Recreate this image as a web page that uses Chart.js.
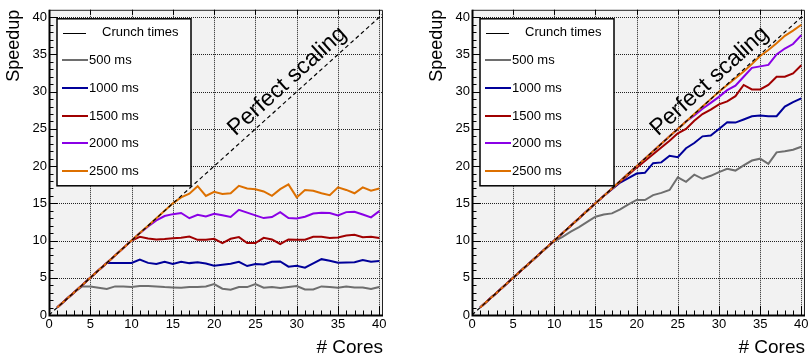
<!DOCTYPE html>
<html>
<head>
<meta charset="utf-8">
<script src="https://cdn.jsdelivr.net/npm/chart.js@4.4.1/dist/chart.umd.min.js"></script>
<style>
html, body { margin: 0; padding: 0; background: #fff; }
#wrap { position: relative; width: 811px; height: 359px; }
#leftChart { position: absolute; left: 0; top: 0; }
#rightChart { position: absolute; left: 405px; top: 0; }
</style>
</head>
<body>
<div id="wrap">
<canvas id="leftChart" width="405" height="359"></canvas>
<canvas id="rightChart" width="406" height="359"></canvas>
</div>
<script>
var cores = [1,2,3,4,5,6,7,8,9,10,11,12,13,14,15,16,17,18,19,20,21,22,23,24,25,26,27,28,29,30,31,32,33,34,35,36,37,38,39,40];
var perfectX = [0, 41];
var perfectY = [0, 41];
var tickValues = [0,5,10,15,20,25,30,35,40];
var seriesLabels = ["500 ms", "1000 ms", "1500 ms", "2000 ms", "2500 ms"];
var seriesColors = ["#6e6e6e", "#000099", "#a00000", "#8a00e6", "#dd7000"];
var legendHeader = "Crunch times";
var perfectLabel = "Perfect scaling";

/* left panel */
var left500 = [1,2,3,3.84,3.84,3.66,3.49,3.84,3.84,3.75,3.88,3.88,3.84,3.75,3.7,3.66,3.75,3.75,3.84,4.15,3.53,3.4,3.75,3.75,4.15,3.66,3.75,3.62,3.75,3.88,3.44,3.44,3.84,3.75,3.66,3.84,3.7,3.7,3.49,3.75];
var left1000 = [1,2,3,4,5,6,7,7,7,7,7.46,7,6.84,7.15,6.84,7.15,6.97,7.1,6.93,6.62,6.75,6.88,7.15,6.58,6.84,6.8,7.15,7.2,6.49,6.62,6.36,6.93,7.5,7.28,7.02,7.06,7.1,7.37,7.15,7.24];
var left1500 = [1,2,3,4,5,6,7,8,9,10,10.5,10.29,10.15,10.2,10.3,10.37,10.55,10.1,10.11,10.24,9.67,10.24,10.46,9.67,9.67,10.37,10.15,9.54,10.15,10.11,10.11,10.5,10.5,10.33,10.42,10.68,10.77,10.46,10.5,10.33];
var left2000 = [1,2,3,4,5,6,7,8,9,10,11,11.9,12.7,13.3,13.55,13.7,13,13.46,13.25,13.6,13.4,13.16,14.13,13.75,13.38,13.02,13.16,13.82,13.02,12.98,13.2,13.64,13.73,13.7,13.38,13.82,13.86,13.5,13.11,13.95];
var left2500 = [1,2,3,4,5,6,7,8,9,10,11,12,13,14,15,15.8,16.3,17.3,16,16.55,16.25,16.35,17.35,17,16.9,16.6,16,16.9,17.55,15.8,16.8,16.7,16.35,16.1,17.15,16.8,16.35,17.15,16.7,17];

/* right panel */
var right500 = [1,2,3,4,5,6,7,8,9,9.9,10.5,11.2,11.8,12.5,13.2,13.5,13.65,14.2,14.85,15.45,15.45,16.1,16.4,16.8,18.5,17.9,18.85,18.3,18.7,19.2,19.65,19.4,20.1,20.75,21,20.3,21.85,22,22.2,22.6];
var right1000 = [1,2,3,4,5,6,7,8,9,10,11,12,13,14,15,16,16.9,17.8,18.4,19,19.1,20.4,20.5,21.4,21.2,22.4,23.1,24,24.1,25,25.9,25.85,26.27,26.7,26.8,26.7,26.7,28,28.6,29.1];
var right1500 = [1,2,3,4,5,6,7,8,9,10,11,12,13,14,15,16,16.95,17.9,18.85,19.8,20.7,21.6,22.5,23.4,24.4,25,26.1,27,27.6,28.3,28.7,29.4,30.9,30.3,30.3,30.9,32,32,32.45,33.55];
var right2000 = [1,2,3,4,5,6,7,8,9,10,11,12,13,14,15,16,17,18,19,20,21,22,23,24,25,26,26.8,27.7,28.5,29.3,30.2,30.8,32,33.2,33.4,33.6,35,35.8,36.4,37.6];
var right2500 = [1,2,3,4,5,6,7,8,9,10,11,12,13,14,15,16,17,18,19,20,21,22,23,24,25,26,27,28,29,30,30.9,31.8,32.7,33.7,34.8,35.6,36.5,37.5,38.2,39];

Chart.defaults.font.family = "'Liberation Sans', Arial, Helvetica, sans-serif";
Chart.defaults.color = "#000";

function toPoints(xs, ys) {
    return xs.map(function (x, i) { return { x: x, y: ys[i] }; });
}

/* draws the ROOT-like frame: grey pad, dotted grid, ticks, legend and label */
var rootFrame = {
    id: 'rootFrame',
    beforeDatasetsDraw: function (chart) {
        var ctx = chart.ctx, a = chart.chartArea;
        var xs = chart.scales.x, ys = chart.scales.y;
        ctx.save();
        ctx.fillStyle = '#f2f2f2';
        ctx.fillRect(a.left, a.top, a.right - a.left, a.bottom - a.top);
        ctx.strokeStyle = '#222';
        ctx.lineWidth = 1;
        ctx.setLineDash([1, 1]);
        tickValues.forEach(function (v) {
            if (v === 0) return;
            var px = Math.round(xs.getPixelForValue(v)) + 0.5;
            ctx.beginPath(); ctx.moveTo(px, a.top); ctx.lineTo(px, a.bottom); ctx.stroke();
            var py = Math.round(ys.getPixelForValue(v)) + 0.5;
            ctx.beginPath(); ctx.moveTo(a.left, py); ctx.lineTo(a.right, py); ctx.stroke();
        });
        ctx.restore();
    },
    afterDatasetsDraw: function (chart) {
        var ctx = chart.ctx, a = chart.chartArea;
        var xs = chart.scales.x, ys = chart.scales.y;
        ctx.save();
        // top and right border
        ctx.strokeStyle = '#222';
        ctx.lineWidth = 1;
        ctx.beginPath();
        ctx.moveTo(a.left, a.top + 0.5); ctx.lineTo(a.right - 0.5, a.top + 0.5); ctx.lineTo(a.right - 0.5, a.bottom);
        ctx.stroke();
        // minor + major ticks
        ctx.strokeStyle = '#000';
        for (var i = 0; i <= 40; i++) {
            var big = tickValues.indexOf(i) >= 0;
            var len = big ? 9 : 4.5;
            var px = Math.round(xs.getPixelForValue(i)) + 0.5;
            ctx.beginPath(); ctx.moveTo(px, a.bottom); ctx.lineTo(px, a.bottom - len); ctx.stroke();
            var py = Math.round(ys.getPixelForValue(i)) + 0.5;
            ctx.beginPath(); ctx.moveTo(a.left, py); ctx.lineTo(a.left + len, py); ctx.stroke();
            if (big && i > 0) {
                ctx.beginPath(); ctx.moveTo(px, a.top); ctx.lineTo(px, a.top + 5); ctx.stroke();
            }
        }
        // main axes
        ctx.lineWidth = 2;
        ctx.beginPath();
        ctx.moveTo(a.left + 0.5, a.top); ctx.lineTo(a.left + 0.5, a.bottom + 0.5); ctx.lineTo(a.right, a.bottom + 0.5);
        ctx.stroke();

        // "Perfect scaling" along the diagonal
        var x0 = xs.getPixelForValue(0), y0 = ys.getPixelForValue(0);
        var x1 = xs.getPixelForValue(40), y1 = ys.getPixelForValue(40);
        var ang = Math.atan2(y1 - y0, x1 - x0);
        var cx = xs.getPixelForValue(30) + Math.sin(ang) * 14;
        var cy = ys.getPixelForValue(30) - Math.cos(ang) * 14;
        ctx.translate(cx, cy);
        ctx.rotate(ang);
        ctx.fillStyle = '#000';
        ctx.font = "23px 'Liberation Sans', Arial, sans-serif";
        ctx.textAlign = 'center';
        ctx.textBaseline = 'middle';
        ctx.fillText(perfectLabel, 0, 0);
        ctx.restore();

        // legend box
        ctx.save();
        var lx = a.left + 8, ly = a.top + 9, lw = 134, lh = 167;
        ctx.fillStyle = '#fff';
        ctx.fillRect(lx, ly, lw, lh);
        ctx.strokeStyle = '#000';
        ctx.lineWidth = 1.5;
        ctx.strokeRect(lx, ly, lw, lh);
        ctx.font = "13px 'Liberation Sans', Arial, sans-serif";
        ctx.textBaseline = 'middle';
        ctx.textAlign = 'left';
        ctx.fillStyle = '#000';
        var rowY = ly + 14;
        ctx.lineWidth = 1;
        ctx.beginPath(); ctx.moveTo(lx + 6, Math.round(rowY) + 0.5); ctx.lineTo(lx + 29, Math.round(rowY) + 0.5); ctx.stroke();
        ctx.fillText(legendHeader, lx + 45, rowY);
        seriesLabels.forEach(function (lab, k) {
            var yy = Math.round(rowY + 27.6 * (k + 1));
            ctx.strokeStyle = seriesColors[k];
            ctx.lineWidth = 2;
            ctx.beginPath(); ctx.moveTo(lx + 5, yy); ctx.lineTo(lx + 31, yy); ctx.stroke();
            ctx.fillText(lab, lx + 32, yy);
        });
        ctx.restore();
    }
};

function makeChart(id, values, padLeft, padRight) {
    var datasets = [{
        data: toPoints(perfectX, perfectY),
        borderColor: '#000',
        borderWidth: 1.2,
        borderDash: [4, 3],
        pointRadius: 0,
        order: 0
    }];
    for (var k = 0; k < values.length; k++) {
        datasets.push({
            label: seriesLabels[k],
            data: toPoints(cores, values[k]),
            borderColor: seriesColors[k],
            borderWidth: 2,
            pointRadius: 0,
            tension: 0,
            order: values.length - k
        });
    }
    return new Chart(document.getElementById(id), {
        type: 'line',
        data: { datasets: datasets },
        options: {
            responsive: false,
            animation: false,
            events: [],
            layout: { padding: { left: padLeft, right: padRight, top: 5, bottom: 0 } },
            plugins: { legend: { display: false }, tooltip: { enabled: false } },
            scales: {
                x: {
                    type: 'linear',
                    min: 0,
                    max: 40.45,
                    grid: { display: false, drawTicks: false },
                    border: { display: false },
                    afterBuildTicks: function (s) { s.ticks = tickValues.map(function (v) { return { value: v }; }); },
                    afterFit: function (s) { s.height = 44; },
                    ticks: { font: { size: 13 }, padding: 2, maxRotation: 0, autoSkip: false, color: '#000' },
                    title: { display: true, text: '# Cores', align: 'end', font: { size: 19 }, padding: { top: 0, bottom: 0 }, color: '#000' }
                },
                y: {
                    type: 'linear',
                    min: 0,
                    max: 41,
                    grid: { display: false, drawTicks: false },
                    border: { display: false },
                    afterBuildTicks: function (s) { s.ticks = tickValues.map(function (v) { return { value: v }; }); },
                    afterFit: function (s) { s.width = 49; },
                    ticks: { font: { size: 13 }, padding: 2, autoSkip: false, color: '#000' },
                    title: { display: true, text: 'Speedup', align: 'end', font: { size: 18 }, padding: { top: 3.5, bottom: 0 }, color: '#000' }
                }
            }
        },
        plugins: [rootFrame]
    });
}

makeChart('leftChart', [left500, left1000, left1500, left2000, left2500], 0, 22);
makeChart('rightChart', [right500, right1000, right1500, right2000, right2500], 18, 6);
</script>
</body>
</html>
